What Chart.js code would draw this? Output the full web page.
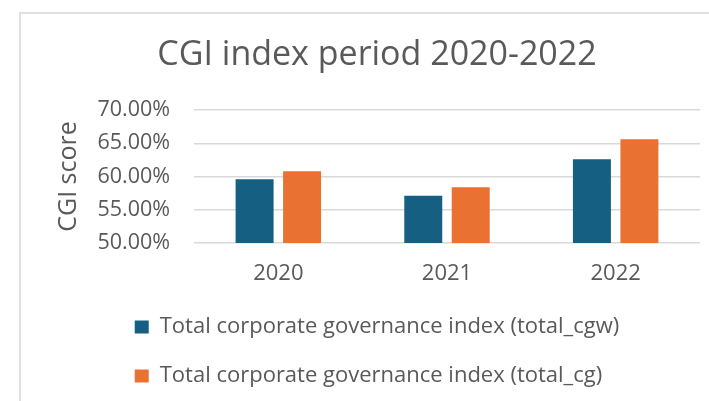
<!DOCTYPE html>
<html>
<head>
<meta charset="utf-8">
<script src="https://cdn.jsdelivr.net/npm/chart.js@4.4.1/dist/chart.umd.min.js"></script>
<style>
  html, body { margin: 0; padding: 0; background: #fff; overflow: hidden; width: 709px; height: 401px; }
  #marco { position: absolute; left: 19px; top: 12px; width: 740px; height: 420px; border-left: 2px solid #e0e0e0; border-top: 2px solid #e0e0e0; }
  #grafico { position: absolute; left: 0; top: 0; }
</style>
</head>
<body>
<div id="marco"><canvas id="grafico" width="712" height="383"></canvas></div>
<script>
// datos del gráfico
const anios = ['2020', '2021', '2022'];
const totalCgw = [0.596, 0.571, 0.626];
const totalCg = [0.608, 0.584, 0.656];
const etiquetasSeries = ['Total corporate governance index (total_cgw)', 'Total corporate governance index (total_cg)'];
const ejeMin = 0.5;
const ejeMax = 0.7;
const paso = 0.05;

const gris = '#595959';
const fuente = "'Open Sans', 'Liberation Sans', sans-serif";

// alinea las filas de la leyenda a la izquierda (mismo ancho)
const leyendaIzquierda = {
    id: 'leyendaIzquierda',
    beforeDraw(chart) {
        const lg = chart.legend;
        if (lg && lg.lineWidths && lg.lineWidths.length) {
            const m = Math.max(...lg.lineWidths);
            lg.lineWidths = lg.lineWidths.map(() => m);
        }
    }
};

const ctx = document.getElementById('grafico').getContext('2d');

new Chart(ctx, {
    type: 'bar',
    data: {
        labels: anios,
        datasets: [{
            label: etiquetasSeries[0],
            data: totalCgw,
            backgroundColor: '#156082',
            categoryPercentage: 0.563,
            barPercentage: 0.8
        }, {
            label: etiquetasSeries[1],
            data: totalCg,
            backgroundColor: '#E97132',
            categoryPercentage: 0.563,
            barPercentage: 0.8
        }]
    },
    options: {
        responsive: false,
        animation: false,
        devicePixelRatio: 1,
        layout: { padding: { left: 33, right: 33, top: 0, bottom: 0 } },
        plugins: {
            title: {
                display: true,
                text: 'CGI index period 2020-2022',
                color: gris,
                font: { family: fuente, size: 34, weight: 'normal' },
                padding: { top: 20.6, bottom: 34.6 }
            },
            legend: {
                position: 'bottom',
                labels: {
                    color: gris,
                    font: { family: fuente, size: 22 },
                    boxWidth: 14,
                    boxHeight: 13,
                    padding: 27
                }
            },
            tooltip: { enabled: false }
        },
        scales: {
            x: {
                grid: { display: false },
                border: { display: false },
                ticks: {
                    color: gris,
                    font: { family: fuente, size: 22 },
                    padding: 10
                },
                afterFit(scale) { scale.height = 46; }
            },
            y: {
                min: ejeMin,
                max: ejeMax,
                grid: { color: '#d9d9d9', lineWidth: 1.5, drawTicks: false },
                border: { display: false },
                ticks: {
                    stepSize: paso,
                    color: gris,
                    font: { family: fuente, size: 21.5 },
                    padding: 24,
                    callback: v => (v * 100).toFixed(2) + '%'
                },
                title: {
                    display: true,
                    text: 'CGI score',
                    color: gris,
                    font: { family: fuente, size: 25 },
                    padding: 0
                },
                afterFit(scale) { scale.width = 140; }
            }
        }
    },
    plugins: [leyendaIzquierda]
});
</script>
</body>
</html>
